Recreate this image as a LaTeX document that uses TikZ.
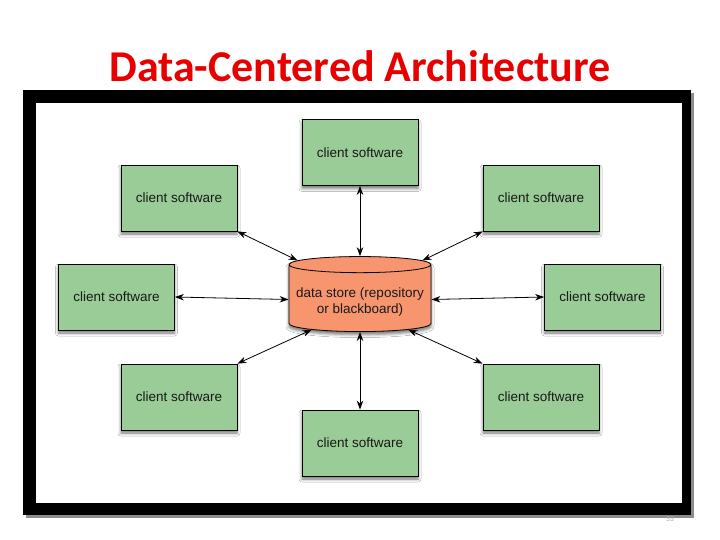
\documentclass[tikz,border=0pt]{standalone}
\usepackage{fontspec}
\setmainfont{Liberation Sans}
\newfontfamily\titlefont{Carlito}
\usetikzlibrary{shapes.geometric,shadows.blur,arrows.meta}
\definecolor{boxgreen}{RGB}{153,204,150}
\definecolor{storeorange}{RGB}{247,150,110}
\definecolor{titlered}{RGB}{232,0,0}
\begin{document}
\begin{tikzpicture}[x=1pt,y=-1pt,
  client/.style={draw=black, line width=0.8pt, fill=boxgreen, minimum width=116pt, minimum height=66pt,
    font=\fontsize{13.5}{15}\selectfont, text=black!90,
    blur shadow={shadow xshift=0pt, shadow yshift=-3pt, shadow blur radius=3pt, shadow opacity=55}},
  store/.style={cylinder, shape border rotate=90, draw=black, line width=0.8pt, fill=storeorange,
    minimum width=142pt, minimum height=75pt, aspect=0.12,
    font=\fontsize{13.5}{16}\selectfont, text=black!90,
    blur shadow={shadow xshift=0pt, shadow yshift=-3pt, shadow blur radius=3pt, shadow opacity=55}},
  link/.style={{Stealth[length=9pt,width=6.5pt]}-{Stealth[length=9pt,width=6.5pt]}, line width=0.8pt, black}]
\useasboundingbox (0,0) rectangle (720,540);
\fill[white] (0,0) rectangle (720,540);
% title
\node[text=titlered, font=\titlefont\bfseries\fontsize{44}{50}\selectfont] (title) at (360,66) {Data-Centered Architecture};
% frame
\fill[black!45] (26,93) rectangle (694,518);
\fill[black] (23,90) rectangle (691,515);
\fill[white] (36,103) rectangle (682,503);
% page number
\node[text=black!30, font=\fontsize{7}{8}\selectfont] (pg) at (670,519) {33};
% nodes
\node[client] (t)  at (360,152.5) {client software};
\node[client] (ul) at (179,198) {client software};
\node[client] (ur) at (541,198) {client software};
\node[client] (l)  at (116.5,297) {client software};
\node[client] (r)  at (602.5,297) {client software};
\node[client] (ll) at (179,397) {client software};
\node[client] (lr) at (541,397) {client software};
\node[client] (b)  at (360,443) {client software};
\node[store] (ds) at (360,299.5) {\raisebox{-6.5pt}[0pt][0pt]{\begin{tabular}{@{}c@{}}data store (repository\\or blackboard)\end{tabular}}};
% connectors
\draw[link] (t.south) -- (ds.north);
\draw[link] (ds.south) -- (b.north);
\draw[link] (l.east) -- (ds.west);
\draw[link] (ds.east) -- (r.west);
\draw[link] (ul.south east) -- (ds.148);
\draw[link] (ur.south west) -- (ds.32);
\draw[link] (ll.north east) -- (ds.212);
\draw[link] (lr.north west) -- (ds.328);
\end{tikzpicture}
\end{document}
